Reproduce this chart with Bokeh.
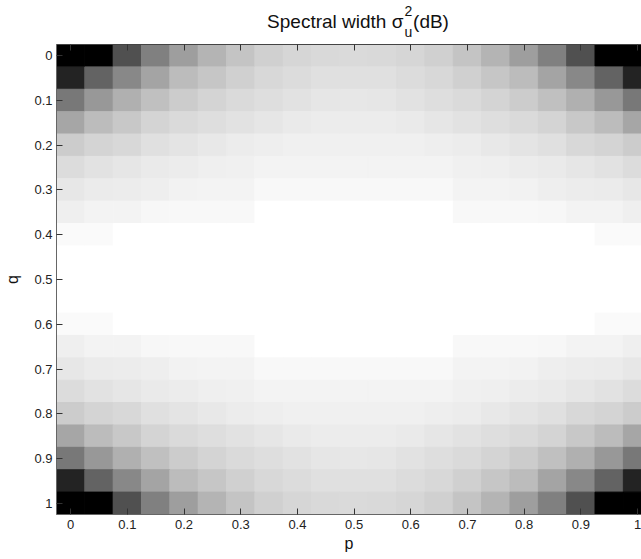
from bokeh.plotting import figure
from bokeh.layouts import column
from bokeh.models import (ColumnDataSource, LinearColorMapper, Range1d,
                          FixedTicker, LinearAxis)
from bokeh.core.properties import value
from bokeh.embed import file_html
from bokeh.resources import INLINE

# ---------------- data ----------------
p_values = [0.0, 0.05, 0.1, 0.15, 0.2, 0.25, 0.3, 0.35, 0.4, 0.45, 0.5,
            0.55, 0.6, 0.65, 0.7, 0.75, 0.8, 0.85, 0.9, 0.95, 1.0]
q_values = [0.0, 0.05, 0.1, 0.15, 0.2, 0.25, 0.3, 0.35, 0.4, 0.45, 0.5,
            0.55, 0.6, 0.65, 0.7, 0.75, 0.8, 0.85, 0.9, 0.95, 1.0]

# grey level (0 = black / low width, 255 = white / high width) per q row
q_000 = [0, 0, 80, 128, 158, 180, 196, 208, 214, 217, 218, 217, 214, 208, 196, 180, 158, 128, 80, 0, 0]
q_005 = [35, 99, 136, 164, 188, 198, 208, 216, 220, 224, 224, 224, 220, 216, 208, 198, 188, 164, 136, 99, 35]
q_010 = [120, 152, 176, 192, 204, 212, 218, 222, 226, 230, 231, 230, 226, 222, 218, 212, 204, 192, 176, 152, 120]
q_015 = [166, 188, 200, 212, 218, 222, 226, 230, 234, 236, 236, 236, 234, 230, 226, 222, 218, 212, 200, 188, 166]
q_020 = [204, 212, 216, 224, 228, 232, 236, 238, 240, 240, 240, 240, 240, 238, 236, 232, 228, 224, 216, 212, 204]
q_025 = [220, 226, 230, 234, 236, 239, 240, 243, 243, 243, 243, 243, 243, 243, 240, 239, 236, 234, 230, 226, 220]
q_030 = [231, 235, 236, 238, 242, 243, 243, 248, 248, 248, 248, 248, 248, 248, 243, 243, 242, 238, 236, 235, 231]
q_035 = [239, 243, 243, 247, 248, 248, 248, 255, 255, 255, 255, 255, 255, 255, 248, 248, 248, 247, 243, 243, 239]
q_040 = [250, 250, 255, 255, 255, 255, 255, 255, 255, 255, 255, 255, 255, 255, 255, 255, 255, 255, 255, 250, 250]
q_045 = [255, 255, 255, 255, 255, 255, 255, 255, 255, 255, 255, 255, 255, 255, 255, 255, 255, 255, 255, 255, 255]
q_050 = [255, 255, 255, 255, 255, 255, 255, 255, 255, 255, 255, 255, 255, 255, 255, 255, 255, 255, 255, 255, 255]
q_055 = [255, 255, 255, 255, 255, 255, 255, 255, 255, 255, 255, 255, 255, 255, 255, 255, 255, 255, 255, 255, 255]
q_060 = [250, 250, 255, 255, 255, 255, 255, 255, 255, 255, 255, 255, 255, 255, 255, 255, 255, 255, 255, 250, 250]
q_065 = [239, 243, 243, 247, 248, 248, 248, 255, 255, 255, 255, 255, 255, 255, 248, 248, 248, 247, 243, 243, 239]
q_070 = [231, 235, 236, 238, 242, 243, 243, 248, 248, 248, 248, 248, 248, 248, 243, 243, 242, 238, 236, 235, 231]
q_075 = [220, 226, 230, 234, 236, 239, 240, 243, 243, 243, 243, 243, 243, 243, 240, 239, 236, 234, 230, 226, 220]
q_080 = [204, 212, 216, 224, 228, 232, 236, 238, 240, 240, 240, 240, 240, 238, 236, 232, 228, 224, 216, 212, 204]
q_085 = [166, 188, 200, 212, 218, 222, 226, 230, 234, 236, 236, 236, 234, 230, 226, 222, 218, 212, 200, 188, 166]
q_090 = [120, 152, 176, 192, 204, 212, 218, 222, 226, 230, 231, 230, 226, 222, 218, 212, 204, 192, 176, 152, 120]
q_095 = [35, 99, 136, 164, 188, 198, 208, 216, 220, 224, 224, 224, 220, 216, 208, 198, 188, 164, 136, 99, 35]
q_100 = [0, 0, 80, 128, 158, 180, 196, 208, 214, 217, 218, 217, 214, 208, 196, 180, 158, 128, 80, 0, 0]

tick_values = [0, 0.1, 0.2, 0.3, 0.4, 0.5, 0.6, 0.7, 0.8, 0.9, 1]
tick_labels = ["0", "0.1", "0.2", "0.3", "0.4", "0.5", "0.6", "0.7", "0.8", "0.9", "1"]

rows = [q_000, q_005, q_010, q_015, q_020, q_025, q_030, q_035, q_040, q_045, q_050,
        q_055, q_060, q_065, q_070, q_075, q_080, q_085, q_090, q_095, q_100]

xs, ys, lv = [], [], []
for qv, row in zip(q_values, rows):
    for pv, g in zip(p_values, row):
        xs.append(pv)
        ys.append(qv)
        lv.append(g)
source = ColumnDataSource(dict(p=xs, q=ys, level=lv))

FONT = "Liberation Sans"
TITLE_H = 40
x_rng = Range1d(-0.025, 1.007)

# ---------------- title strip (stacked super/subscript) ----------------
t = figure(width=641, height=TITLE_H, output_backend="svg", toolbar_location=None, tools="",
           x_range=x_rng, y_range=Range1d(TITLE_H, 0), title_location=None,
           x_axis_location=None, y_axis_location=None,
           min_border_left=56, min_border_right=0, min_border_top=0, min_border_bottom=0)
t.outline_line_color = None
t.xgrid.visible = False
t.ygrid.visible = False
t.background_fill_color = "white"
t.border_fill_color = "white"


def title_piece(text, x, y, size, align):
    t.text(x=[x], y=[y], text=[text], text_align=align, text_baseline="alphabetic",
           text_font=value(FONT), text_font_size=size, text_color="#111111")


title_piece("Spectral width σ", 0.587, 21, "19px", "right")
title_piece("2", 0.589, 10.5, "14px", "left")
title_piece("u", 0.589, 31, "14px", "left")
title_piece("(dB)", 0.604, 21, "19px", "left")

# ---------------- heat map ----------------
grey_palette = ["#%02x%02x%02x" % (i, i, i) for i in range(256)]
mapper = LinearColorMapper(palette=grey_palette, low=0, high=255)

p = figure(width=641, height=559 - TITLE_H, output_backend="svg", toolbar_location=None, tools="",
           x_range=x_rng, y_range=Range1d(1.025, -0.025),
           min_border_left=56, min_border_right=0, min_border_top=44 - TITLE_H,
           min_border_bottom=45)
p.outline_line_color = None
p.xgrid.visible = False
p.ygrid.visible = False
p.background_fill_color = "white"
p.border_fill_color = "white"

cell_w = p_values[1] - p_values[0]
cell_h = q_values[1] - q_values[0]
p.rect(x="p", y="q", width=cell_w, height=cell_h, source=source,
       fill_color={"field": "level", "transform": mapper},
       line_color={"field": "level", "transform": mapper}, line_width=1)

overrides = dict(zip(tick_values, tick_labels))


def style_axis(ax, show_labels=True):
    ax.ticker = FixedTicker(ticks=tick_values)
    ax.major_label_overrides = overrides
    ax.minor_tick_line_color = None
    ax.major_tick_in = 6
    ax.major_tick_out = 0
    ax.major_tick_line_color = "#333333"
    ax.axis_line_color = "#666666"
    ax.major_label_text_font = FONT
    ax.major_label_text_font_size = "13px"
    ax.major_label_text_color = "#222222"
    ax.axis_label_text_font = FONT
    ax.axis_label_text_font_size = "16px"
    ax.axis_label_text_font_style = "normal"
    ax.axis_label_text_color = "#111111"
    if not show_labels:
        ax.major_label_text_alpha = 0
        ax.major_label_text_font_size = "0px"
        ax.major_label_standoff = 0


style_axis(p.xaxis[0])
p.xaxis[0].axis_label = "p"
p.xaxis[0].major_label_standoff = 5
p.xaxis[0].axis_label_standoff = 3
style_axis(p.yaxis[0])
p.yaxis[0].axis_label = "q"
p.yaxis[0].major_label_standoff = 4
p.yaxis[0].axis_label_standoff = 10

top_axis = LinearAxis()
style_axis(top_axis, show_labels=False)
top_axis.axis_line_color = "#444444"
p.add_layout(top_axis, "above")

layout = column(t, p, spacing=0)
open("out.html", "w").write(file_html(layout, INLINE))
